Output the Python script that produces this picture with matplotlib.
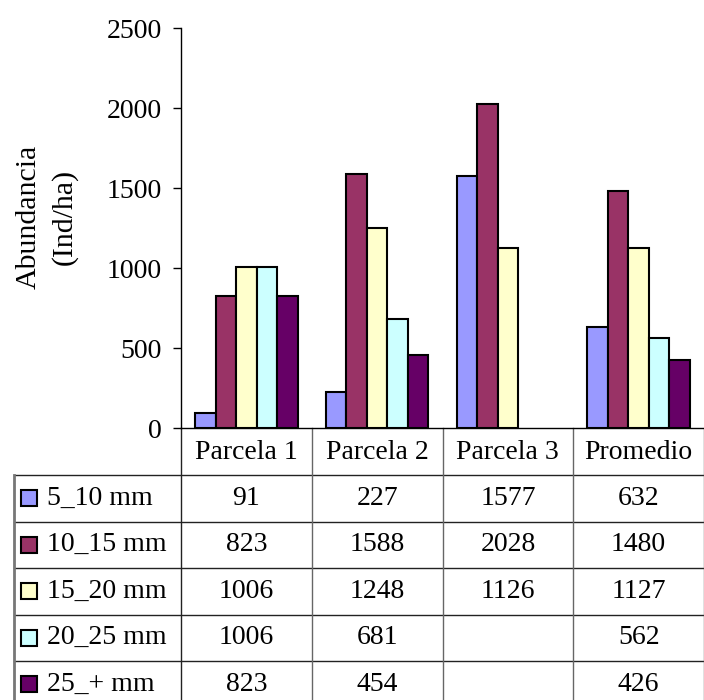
import matplotlib.pyplot as plt
from matplotlib.patches import Rectangle

plt.rcParams['font.family'] = ['Liberation Serif', 'DejaVu Serif']

parcelas = ["Parcela 1", "Parcela 2", "Parcela 3", "Promedio"]
clases = ["5_10 mm", "10_15 mm", "15_20 mm", "20_25 mm", "25_+ mm"]
v_5_10 = [91, 227, 1577, 632]
v_10_15 = [823, 1588, 2028, 1480]
v_15_20 = [1006, 1248, 1126, 1127]
v_20_25 = [1006, 681, None, 562]
v_25_mas = [823, 454, None, 426]
series = [v_5_10, v_10_15, v_15_20, v_20_25, v_25_mas]
colores = ["#9999FF", "#993366", "#FFFFCC", "#CCFFFF", "#660066"]

W, H = 704, 700
FS = 20

fig = plt.figure(figsize=(W / 100, H / 100), dpi=100)

# pixel canvas for the data table under the bars
tab = fig.add_axes([0, 0, 1, 1])
tab.set_xlim(0, W)
tab.set_ylim(H, 0)
tab.axis("off")

# bar chart area
x0, x1, y_top, y_zero = 181, 704, 28, 428
ax = fig.add_axes([x0 / W, 1 - y_zero / H, (x1 - x0) / W, (y_zero - y_top) / H])
ax.set_facecolor("none")
ax.set_xlim(-0.5, len(parcelas) - 0.5)
ax.set_ylim(0, 2500)
ax.set_yticks([0, 500, 1000, 1500, 2000, 2500])
ax.set_xticks([])
ax.tick_params(axis="y", direction="out", length=6, width=1, pad=8, labelsize=FS)
for s in ["top", "right"]:
    ax.spines[s].set_visible(False)
ax.spines["left"].set_linewidth(1)
ax.spines["bottom"].set_linewidth(1)

bw = 0.157
for k, (vals, c) in enumerate(zip(series, colores)):
    xs = [i + (k - 2) * bw for i, v in enumerate(vals) if v is not None]
    hs = [v for v in vals if v is not None]
    ax.bar(xs, hs, width=bw, color=c, edgecolor="black", linewidth=1.5, zorder=3)

fig.text(47 / W, 1 - 217 / H, "Abundancia\n(Ind/ha)", rotation=90,
         ha="center", va="center", linespacing=1.45, fontsize=21.5)

# table grid
col_w = (x1 - x0) / len(parcelas)
head_bot = 475
row_h = 46.5
tab_left = 14
rows_y = [head_bot + row_h * r for r in range(len(clases) + 1)]

for y in rows_y:
    tab.plot([tab_left, W], [y, y], color="#222222", lw=1)
for i in range(len(parcelas) + 1):
    xv = x0 + i * col_w
    tab.plot([xv, xv], [y_zero, H], color="#666666" if i else "#222222", lw=1)
tab.plot([tab_left, tab_left], [head_bot, H], color="#777777", lw=2)

for i, p in enumerate(parcelas):
    cx = x0 + (i + 0.5) * col_w
    tab.text(cx, (y_zero + head_bot) / 2 + 1, p, ha="center", va="center", fontsize=FS)

for r, (nombre, vals, c) in enumerate(zip(clases, series, colores)):
    cy = rows_y[r] + row_h / 2
    tab.add_patch(Rectangle((21, cy - 8), 16, 16, facecolor=c, edgecolor="black", lw=1.5))
    tab.text(47, cy, nombre, ha="left", va="center", fontsize=FS)
    for i, v in enumerate(vals):
        if v is not None:
            tab.text(x0 + (i + 0.5) * col_w, cy, str(v), ha="center", va="center", fontsize=FS)

fig.savefig("out.png", dpi=100)
